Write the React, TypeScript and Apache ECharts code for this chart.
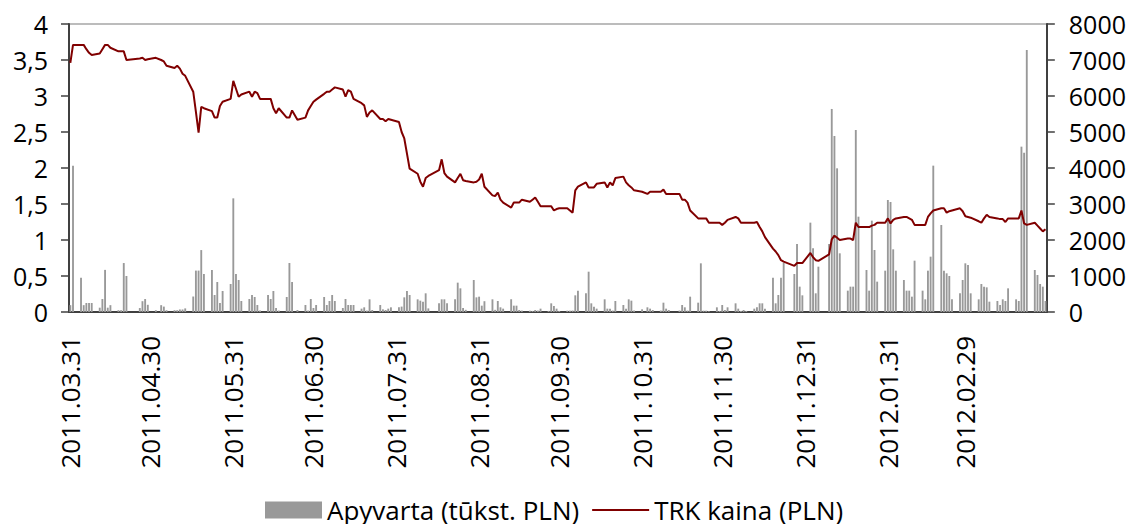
import React, { useEffect, useRef } from 'react';
import * as echarts from 'echarts';

const volName = 'Apyvarta (tūkst. PLN)';
const priceName = 'TRK kaina (PLN)';

const xLabels = ['2011.03.31', '2011.04.30', '2011.05.31', '2011.06.30', '2011.07.31', '2011.08.31', '2011.09.30', '2011.10.31', '2011.11.30', '2011.12.31', '2012.01.31', '2012.02.29'];

const monthKeys = ['2011.03', '2011.04', '2011.05', '2011.06', '2011.07', '2011.08', '2011.09', '2011.10', '2011.11', '2011.12', '2012.01', '2012.02', '2012.03'];

// Price (PLN), one value per weekday of the month (null = exchange closed)
const priceMar11 = [3.46];
const priceApr11 = [3.71, 3.71, 3.71, 3.65, 3.60, 3.57, 3.59, 3.65, 3.71, 3.71, 3.67, 3.62, 3.62, 3.62, 3.50, null, null, 3.52, 3.53, 3.50, 3.51];
const priceMay11 = [3.53, null, 3.50, 3.48, 3.42, 3.39, 3.42, 3.38, 3.31, 3.28, 3.06, 2.78, 2.49, 2.85, 2.83, 2.79, 2.70, 2.70, 2.86, 2.92, 2.96, 3.21];
const priceJun11 = [3.10, 2.99, 3.02, 3.06, 2.99, 3.06, 3.04, 2.96, 2.96, 2.96, 2.83, 2.76, 2.83, 2.70, 2.70, 2.80, null, 2.67, 2.70, 2.80, 2.86, 2.92];
const priceJul11 = [2.95, 3.03, 3.06, 3.06, 3.09, 3.12, 3.09, 2.99, 3.08, 3.06, 2.96, 2.90, 2.87, 2.71, 2.77, 2.80, 2.68, 2.68, 2.65, 2.68, 2.67];
const priceAug11 = [2.64, 2.50, 2.41, 2.20, 1.99, 1.92, 1.81, 1.74, 1.86, 1.89, null, 1.97, 2.12, 1.93, 1.88, 1.80, 1.86, 1.92, 1.83, 1.82, 1.80, 1.81, 1.84];
const priceSep11 = [1.92, 1.74, 1.62, 1.61, 1.66, 1.56, 1.52, 1.45, 1.52, 1.52, 1.52, 1.56, 1.53, 1.56, 1.59, 1.53, 1.47, 1.47, 1.47, 1.41, 1.43, 1.44];
const priceOct11 = [1.44, 1.41, 1.38, 1.69, 1.74, 1.80, 1.73, 1.73, 1.73, 1.78, 1.80, 1.73, 1.80, 1.76, 1.86, 1.88, 1.80, 1.76, 1.73, 1.69, 1.67];
const priceNov11 = [null, 1.64, 1.67, 1.67, 1.67, 1.70, 1.64, 1.64, null, 1.64, 1.56, 1.56, 1.52, 1.41, 1.30, 1.30, 1.30, 1.30, 1.24, 1.24, 1.24, 1.21];
const priceDec11 = [1.24, 1.28, 1.32, 1.30, 1.24, 1.24, 1.24, 1.24, 1.25, 1.18, 1.12, 1.04, 0.88, 0.84, 0.79, 0.72, 0.70, null, 0.64, 0.68, 0.68, 0.68];
const priceJan12 = [0.82, 0.76, 0.72, 0.71, null, 0.80, 1.01, 1.06, 1.03, 1.00, 1.02, 1.02, 1.00, 1.24, 1.18, 1.18, 1.18, 1.20, 1.21, 1.24, 1.24, 1.30];
const priceFeb12 = [1.23, 1.28, 1.30, 1.32, 1.32, 1.30, 1.28, 1.21, 1.21, 1.21, 1.32, 1.37, 1.41, 1.44, 1.44, 1.38, 1.40, 1.41, 1.44, 1.40, 1.33];
const priceMar12 = [1.32, 1.31, 1.26, 1.24, 1.30, 1.35, 1.32, 1.30, 1.29, 1.29, 1.25, 1.30, 1.30, 1.30, 1.41, 1.23, 1.21, 1.24, 1.20, 1.16, 1.12, 1.15];

// Turnover (thousand PLN), one value per weekday of the month
const volMar11 = [190];
const volApr11 = [4060, 950, 190, 250, 250, 250, 120, 360, 1170, 120, 190, 50, 50, 1360, 1000, null, null, 110, 300, 360, 200];
const volMay11 = [50, null, 190, 150, 50, 50, 50, 70, 70, 100, 430, 1150, 1150, 1720, 1056, 1167, 472, 833, 250, 583, 778, 3157];
const volJun11 = [1056, 889, 306, 361, 472, 417, 194, 40, 472, 361, 583, 111, 40, 417, 1361, 833, null, 56, 194, 40, 361, 111];
const volJul11 = [194, 417, 194, 306, 472, 306, 111, 361, 194, 194, 194, 93, 130, 40, 352, 56, 194, 74, 56, 93, 130];
const volAug11 = [130, 150, 407, 583, 472, 352, 315, 287, 519, 100, null, 241, 352, 352, 241, 352, 815, 657, 111, 60, 889, 407, 426];
const volSep11 = [176, 300, 352, 60, 306, 130, 93, 352, 176, 176, 56, 40, 37, 30, 56, 40, 93, 30, 241, 167, 93, 30];
const volOct11 = [37, 37, 40, 463, 593, 519, 1120, 241, 148, 93, 352, 93, 93, 40, 306, 194, 93, 352, 315, 40, 74];
const volNov11 = [null, 130, 93, 56, 40, 259, 93, 56, null, 40, 194, 130, 40, 426, 259, 1352, 37, 37, 20, 130, 30, 194];
const volDec11 = [56, 130, 241, 93, 30, 56, 30, 93, 130, 241, 241, 93, 954, 241, 472, 954, 1370, null, 1056, 1889, 704, 463];
const volJan12 = [2482, 1769, 519, 1259, null, 1889, 5640, 4889, 3991, 1630, 593, 704, 704, 5056, 2648, 1167, 593, 2537, 1722, 843, 1148, 3111];
const volFeb12 = [3056, 1741, 1148, 889, 593, 593, 426, 1426, 593, 352, 1148, 1537, 4065, 2417, 1148, 1074, 1000, 352, 519, 889, 1352];
const volMar12 = [1306, 519, 352, 778, 704, 685, 287, 306, 194, 352, 306, 657, 352, 306, 4593, 4426, 7278, 1167, 1028, 778, 704, 306];

const priceByMonth = [priceMar11, priceApr11, priceMay11, priceJun11, priceJul11, priceAug11, priceSep11, priceOct11, priceNov11, priceDec11, priceJan12, priceFeb12, priceMar12];
const volumeByMonth = [volMar11, volApr11, volMay11, volJun11, volJul11, volAug11, volSep11, volOct11, volNov11, volDec11, volJan12, volFeb12, volMar12];

function buildData() {
  const dates: string[] = [];
  const price: (number | null)[] = [];
  const volume: (number | null)[] = [];
  const counters = monthKeys.map(() => 0);
  const start = Date.UTC(2011, 2, 31);
  for (let i = 0; i < 366; i++) {
    const d = new Date(start + i * 86400000);
    const key = `${d.getUTCFullYear()}.${String(d.getUTCMonth() + 1).padStart(2, '0')}`;
    dates.push(`${key}.${String(d.getUTCDate()).padStart(2, '0')}`);
    const wd = d.getUTCDay();
    if (wd === 0 || wd === 6) {
      price.push(null);
      volume.push(null);
      continue;
    }
    const mi = monthKeys.indexOf(key);
    const k = counters[mi]++;
    const p = priceByMonth[mi][k];
    const v = volumeByMonth[mi][k];
    price.push(p === undefined ? null : p);
    volume.push(v === undefined ? null : v);
  }
  return { dates, price, volume };
}

export default function App() {
  const ref = useRef<HTMLDivElement>(null);
  useEffect(() => {
    document.body.style.margin = '0';
    if (!ref.current) return;
    const chart = echarts.init(ref.current, undefined, { renderer: 'svg' });
    const { dates, price, volume } = buildData();
    const axisCol = '#404040';
    chart.setOption({
      animation: false,
      textStyle: { fontFamily: 'Open Sans' },
      grid: {
        left: 69, right: 82, top: 24, bottom: 212,
        show: true, borderColor: '#a6a6a6', borderWidth: 1.5,
      },
      legend: {
        left: 260, top: 492, itemWidth: 57, itemHeight: 17, itemGap: 13,
        symbolKeepAspect: true,
        textStyle: { fontSize: 26, color: '#000', fontFamily: 'Open Sans' },
        data: [
          { name: volName, icon: 'rect' },
          { name: priceName, icon: 'path://M0,0H57V2H0Z' },
        ],
      },
      xAxis: {
        type: 'category', data: dates, boundaryGap: true,
        axisLine: { lineStyle: { color: axisCol, width: 2 } },
        axisTick: { show: false },
        axisLabel: {
          interval: (_i: number, v: string) => xLabels.includes(v),
          rotate: 90, fontSize: 26, margin: 24, color: '#000', fontFamily: 'Open Sans',
        },
        splitLine: { show: false },
      },
      yAxis: [
        {
          type: 'value', min: 0, max: 4, interval: 0.5, position: 'left',
          axisLine: { show: true, lineStyle: { color: axisCol, width: 2 } },
          axisTick: { show: true, length: 8, lineStyle: { color: axisCol, width: 1.5 } },
          axisLabel: {
            fontSize: 25, margin: 21, color: '#000', fontFamily: 'Open Sans',
            formatter: (v: number) => String(v).replace('.', ','),
          },
          splitLine: { show: false },
        },
        {
          type: 'value', min: 0, max: 8000, interval: 1000, position: 'right',
          axisLine: { show: true, lineStyle: { color: axisCol, width: 2 } },
          axisTick: { show: true, length: 8, lineStyle: { color: axisCol, width: 1.5 } },
          axisLabel: {
            fontSize: 25, margin: 22, color: '#000', fontFamily: 'Open Sans',
            formatter: (v: number) => String(v),
          },
          splitLine: { show: false },
        },
      ],
      series: [
        {
          name: volName, type: 'bar', yAxisIndex: 1, data: volume,
          itemStyle: { color: '#999999' }, barCategoryGap: '30%',
        },
        {
          name: priceName, type: 'line', yAxisIndex: 0, data: price,
          connectNulls: true, symbol: 'none',
          lineStyle: { color: '#800000', width: 2 }, itemStyle: { color: '#800000' },
        },
      ],
    });
    return () => chart.dispose();
  }, []);
  return <div ref={ref} style={{ width: 1129, height: 524 }} />;
}
